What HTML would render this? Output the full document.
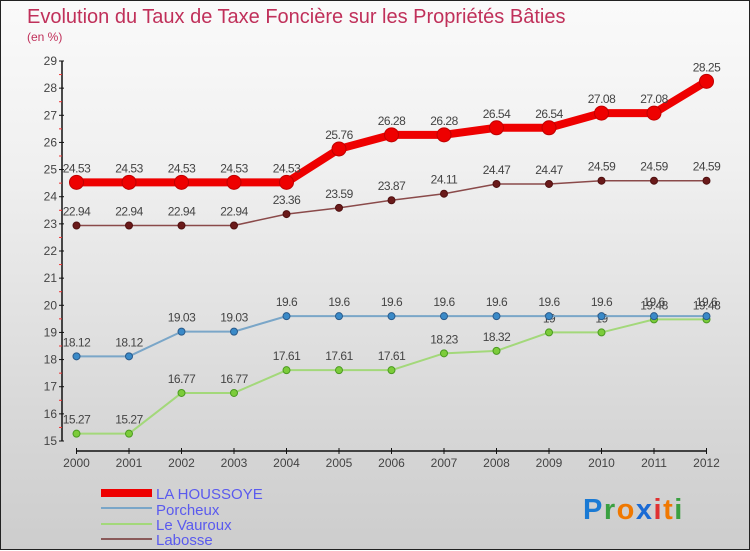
<!DOCTYPE html>
<html><head><meta charset="utf-8">
<style>
html,body{margin:0;padding:0;}
body{width:750px;height:550px;overflow:hidden;font-family:"Liberation Sans",sans-serif;}
#wrap{position:relative;width:748px;height:548px;border:1px solid #222;background:linear-gradient(#fafafa,#f0f0f0 30%,#d8d8d8 75%,#cdcdcd);}
svg{position:absolute;left:0;top:0;}
</style></head>
<body>
<div id="wrap">
<svg id="chart" width="750" height="550">
<text x="26" y="22" font-size="20" fill="#c0305a">Evolution du Taux de Taxe Foncière sur les Propriétés Bâties</text>
<text x="26" y="40" font-size="12" fill="#c0305a">(en %)</text>
<g id="axes"></g>
<g id="series"></g>
<g id="legend" font-size="15" fill="#5a5aee">
<rect x="100" y="488" width="51" height="8" fill="#e00"/>
<text x="155" y="498">LA HOUSSOYE</text>
<rect x="100" y="506" width="51" height="2" fill="#7aa6c8"/>
<text x="155" y="514">Porcheux</text>
<rect x="100" y="522" width="51" height="2" fill="#a3d87a"/>
<text x="155" y="529">Le Vauroux</text>
<rect x="100" y="537" width="51" height="2" fill="#8a5a5a"/>
<text x="155" y="544">Labosse</text>
</g>
<g font-size="29" font-weight="bold" letter-spacing="1.5">
<text x="582" y="518"><tspan fill="#1a7ad4">P</tspan><tspan fill="#3aa040">r</tspan><tspan fill="#f07800">o</tspan><tspan fill="#1a6ad4">x</tspan><tspan fill="#e03030">i</tspan><tspan fill="#f07800">t</tspan><tspan fill="#3aa040">i</tspan></text>
</g>
</svg>
</div>
<script>
const years=[2000,2001,2002,2003,2004,2005,2006,2007,2008,2009,2010,2011,2012];
const yTicks=[15,16,17,18,19,20,21,22,23,24,25,26,27,28,29];
const laHoussoye=[24.53,24.53,24.53,24.53,24.53,25.76,26.28,26.28,26.54,26.54,27.08,27.08,28.25];
const porcheux=[18.12,18.12,19.03,19.03,19.6,19.6,19.6,19.6,19.6,19.6,19.6,19.6,19.6];
const leVauroux=[15.27,15.27,16.77,16.77,17.61,17.61,17.61,18.23,18.32,19,19,19.48,19.48];
const labosse=[22.94,22.94,22.94,22.94,23.36,23.59,23.87,24.11,24.47,24.47,24.59,24.59,24.59];

const NS="http://www.w3.org/2000/svg";
function xs(i){return 75.5+i*52.5;}
function ys(v){return 440-(v-15)*(380/14);}
function mk(tag,attrs,parent){const e=document.createElementNS(NS,tag);for(const k in attrs)e.setAttribute(k,attrs[k]);parent.appendChild(e);return e;}
const axes=document.getElementById('axes');
const ser=document.getElementById('series');

const ya=mk('line',{x1:61,y1:ys(29),x2:61,y2:ys(15),stroke:'#111','stroke-width':1.5},axes);


yTicks.forEach(t=>{
  mk('line',{x1:58,y1:ys(t),x2:63,y2:ys(t),stroke:'#111'},axes);
  if(t<29){mk('line',{x1:58,y1:ys(t+0.5),x2:61,y2:ys(t+0.5),stroke:'#e33'},axes);}
  const tx=mk('text',{x:56,y:ys(t)+4,'font-size':12,fill:'#444','text-anchor':'end'},axes);
  tx.textContent=t;
  
  
});
const xa=mk('line',{x1:75,y1:450,x2:706,y2:450,stroke:'#111','stroke-width':1.5},axes);


years.forEach((y,i)=>{
  mk('line',{x1:xs(i),y1:447,x2:xs(i),y2:453,stroke:'#111'},axes);
  const tx=mk('text',{x:xs(i),y:466,'font-size':12,fill:'#444','text-anchor':'middle'},axes);
  tx.textContent=y;
  
  
});

function drawSeries(vals,name,color,width,r,dot,dotStroke){
  const g=mk('g',{},ser);
  
  
  const pts=vals.map((v,i)=>xs(i)+','+ys(v)).join(' ');
  const pl=mk('polyline',{points:pts,fill:'none',stroke:color,'stroke-width':width,'stroke-linejoin':'round'},g);
  
  
  vals.forEach((v,i)=>{
    const c=mk('circle',{cx:xs(i),cy:ys(v),r:r,fill:dot,stroke:dotStroke,'stroke-width':1},g);
    
    
    const t=mk('text',{x:xs(i),y:ys(v)-10,'font-size':12,fill:'#444','text-anchor':'middle','letter-spacing':'-0.5'},g);
    t.textContent=String(v);
    
    
  });
}
drawSeries(leVauroux,'le-vauroux','#a3d87a',2,3.5,'#7ccc3a','#4a9a20');
drawSeries(porcheux,'porcheux','#7aa6c8',2,3.5,'#3a8ac8','#2a5a8a');
drawSeries(labosse,'labosse','#8a4a4a',1.5,3.5,'#6a1a1a','#501010');
drawSeries(laHoussoye,'la-houssoye','#ee0000',8,7,'#ee0000','#c00000');
</script>
</body></html>
